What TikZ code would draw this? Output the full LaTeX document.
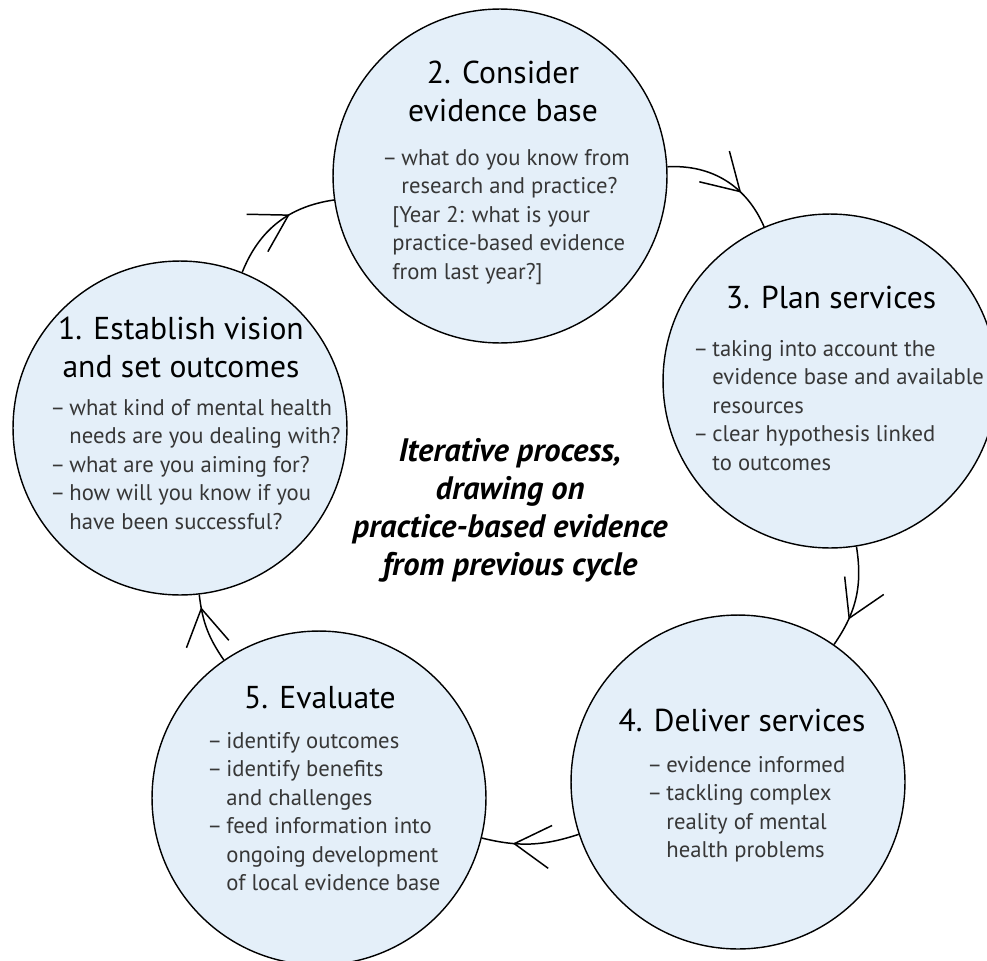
\documentclass[tikz,border=0pt]{standalone}
\usepackage{fontspec}
\setmainfont{PT Sans}
\usetikzlibrary{positioning,arrows.meta,decorations.markings}

\definecolor{stagefill}{RGB}{228,239,249}
\definecolor{listgrey}{RGB}{55,55,55}

\tikzset{
  stage/.style={draw, circle, line width=0.8pt, fill=stagefill, minimum size=6.68cm, inner sep=0pt},
  heading/.style={align=center, anchor=north, inner sep=0pt, font=\fontsize{18}{21.6}\selectfont},
  points/.style={align=left, anchor=north west, inner sep=0pt, text=listgrey, font=\fontsize{12.9}{16.2}\selectfont},
  centrenote/.style={align=center, anchor=north, inner sep=0pt, font=\fontsize{18.5}{21.6}\selectfont\bfseries\itshape},
  flow/.style={line width=0.85pt, postaction={decorate},
    decoration={markings, mark=at position #1 with {\arrow{Straight Barb[length=7.2mm, width=8.6mm]}}}}
}
\newcommand{\dash}{–\hspace{0.18em}}
\newcommand{\hang}{\phantom{\dash}}

\begin{document}
\begin{tikzpicture}[x=0.02cm, y=-0.02cm]
  \useasboundingbox (0,0) rectangle (987,960);

  % Stages of the cycle
  \node[stage] (vision) at (180,428) {};
  \node[stage] (base) at (500,176) {};
  \node[stage] (plan) at (830,381) {};
  \node[stage] (deliver) at (738,782) {};
  \node[stage] (eval) at (319,798) {};

  % Headings
  \node[heading] (visionhead) at (181,317) {1. Establish vision\\and set outcomes};
  \node[heading] (basehead) at (503,61) {2. Consider\\evidence base};
  \node[heading] (planhead) at (831,286) {3. Plan services};
  \node[heading] (deliverhead) at (742,709) {4. Deliver services};
  \node[heading] (evalhead) at (320,686) {5. Evaluate};

  % Lists
  \node[points] (visionlist) at (50,399) {\dash what kind of mental health\\\hang needs are you dealing with?\\\dash what are you aiming for?\\\dash how will you know if you\\\hang have been successful?};
  \node[points] (baselist) at (382,149) {\dash what do you know from\\\hang research and practice?\\\hspace*{5.7pt}[Year 2: what is your\\\hspace*{5.7pt}practice-based evidence\\\hspace*{5.7pt}from last year?]};
  \node[points] (planlist) at (693,340) {\dash taking into account the\\\hang evidence base and available\\\hang resources\\\dash clear hypothesis linked\\\hang to outcomes};
  \node[points] (deliverlist) at (647,756) {\dash evidence informed\\\dash tackling complex\\\hang reality of mental\\\hang health problems};
  \node[points] (evallist) at (207,732) {\dash identify outcomes\\\dash identify benefits\\\hang and challenges\\\dash feed information into\\\hang ongoing development\\\hang of local evidence base};

  % Middle note
  \node[centrenote] (cycle) at (510,438) {Iterative process,\\drawing on\\practice-based evidence\\from previous cycle};

  % Arrows
  \draw[flow=0.62] (vision) to[bend left=30] (base);
  \draw[flow=0.66] (base) to[bend left=35] (plan);
  \draw[flow=0.72] (plan) to[bend left=22] (deliver);
  \draw[flow=0.68] (deliver) to[bend left=16] (eval);
  \draw[flow=0.82] (eval) to[bend left=14] (vision);
\end{tikzpicture}
\end{document}
